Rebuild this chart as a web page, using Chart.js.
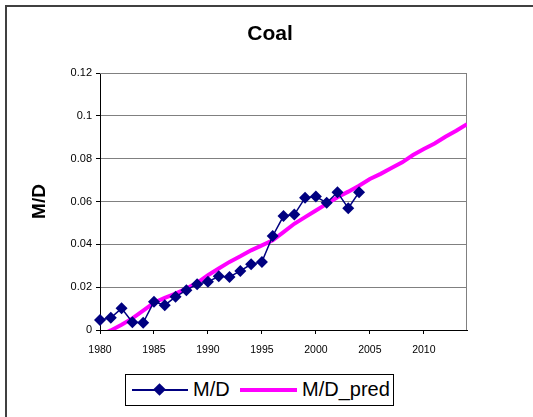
<!DOCTYPE html>
<html>
<head>
<meta charset="utf-8">
<script src="https://cdn.jsdelivr.net/npm/chart.js@4"></script>
<style>
  html, body { margin: 0; padding: 0; background: #fff; overflow: hidden; }
  #wrap { position: relative; width: 533px; height: 417px; }
  #frame { position: absolute; left: 5px; top: 5px; width: 560px; height: 440px; border: 2px solid #404040; box-sizing: border-box; }
  canvas { position: absolute; left: 0; top: 0; }
  #legend { position: absolute; left: 125px; top: 374px; width: 269px; height: 32px; border: 1px solid #000; box-sizing: border-box; background: #fff;
            font-family: 'Liberation Sans', Arial, sans-serif; font-size: 20px; color: #000; }
  #legend .ln { position: absolute; }
  #legend .txt { position: absolute; top: 3px; line-height: 23px; }
</style>
</head>
<body>
<div id="wrap">
  <div id="frame"></div>
  <canvas id="coalChart" width="533" height="417"></canvas>
  <div id="legend"></div>
</div>
<script>
// ===== DATA =====
const years = [1980, 1981, 1982, 1983, 1984, 1985, 1986, 1987, 1988, 1989,
  1990, 1991, 1992, 1993, 1994, 1995, 1996, 1997, 1998, 1999,
  2000, 2001, 2002, 2003, 2004, 2005, 2006, 2007, 2008, 2009,
  2010, 2011, 2012, 2013, 2014];

const mdValues = [0.0047, 0.0057, 0.0101, 0.0036, 0.0034, 0.0132, 0.0116, 0.0155, 0.0186, 0.0214,
  0.0225, 0.0251, 0.0248, 0.0276, 0.0307, 0.0318, 0.0439, 0.0532, 0.0539, 0.0617,
  0.0623, 0.0594, 0.0643, 0.0569, 0.0643];

const predValues = [-0.0025, -0.0002, 0.0025, 0.0054, 0.0090, 0.0127, 0.0150, 0.0170, 0.0194, 0.0220,
  0.0256, 0.0287, 0.0318, 0.0344, 0.0372, 0.0395, 0.0419, 0.0457, 0.0496, 0.0527,
  0.0558, 0.0589, 0.0620, 0.0646, 0.0674, 0.0705, 0.0729, 0.0756, 0.0783, 0.0817,
  0.0845, 0.0871, 0.0902, 0.0930, 0.0961];

const xTicks = [1980, 1985, 1990, 1995, 2000, 2005, 2010];
const yTicks = [0, 0.02, 0.04, 0.06, 0.08, 0.1, 0.12];
const yTickLabels = ["0", "0.02", "0.04", "0.06", "0.08", "0.1", "0.12"];

const seriesNames = ["M/D", "M/D_pred"];
const seriesColors = ["#000080", "#FF00FF"];

const FONT = "'Liberation Sans', Arial, sans-serif";

// ===== PLOT FRAME + TITLE SPOT =====
const plotFrame = {
  id: "plotFrame",
  afterLayout(chart) {
    // the title sits a bit left of the plot centre, like the original
    chart.titleBlock.left = 73;
  },
  beforeDatasetsDraw(chart) {
    const a = chart.chartArea;
    const ctx = chart.ctx;
    ctx.save();
    ctx.strokeStyle = "#808080";
    ctx.lineWidth = 1;
    ctx.beginPath();
    ctx.moveTo(a.left, a.top + 0.5);
    ctx.lineTo(a.right - 0.5, a.top + 0.5);
    ctx.lineTo(a.right - 0.5, a.bottom);
    ctx.stroke();
    ctx.restore();
  }
};

// ===== CHART =====
function createChart() {
  const ctx = document.getElementById("coalChart").getContext("2d");

  window.chart = new Chart(ctx, {
    type: "line",
    data: {
      datasets: [{
        label: seriesNames[0],
        data: mdValues.map((v, i) => ({ x: years[i], y: v })),
        borderColor: seriesColors[0],
        backgroundColor: seriesColors[0],
        borderWidth: 1.5,
        pointStyle: "rectRot",
        pointRadius: 6,
        pointBorderWidth: 0,
        tension: 0,
        clip: false
      }, {
        label: seriesNames[1],
        data: predValues.map((v, i) => ({ x: years[i], y: v })),
        borderColor: seriesColors[1],
        backgroundColor: seriesColors[1],
        borderWidth: 4,
        pointRadius: 0,
        tension: 0
      }]
    },
    options: {
      responsive: false,
      animation: false,
      events: [],
      layout: { padding: { left: 0, right: 66, top: 0, bottom: 57 } },
      plugins: {
        legend: { display: false },
        tooltip: { enabled: false },
        title: {
          display: true,
          text: "Coal",
          color: "#000",
          font: { family: FONT, size: 21, weight: "bold" },
          padding: { top: 22, bottom: 25.8 }
        }
      },
      scales: {
        x: {
          type: "linear",
          min: 1980,
          max: 2014,
          afterBuildTicks: (scale) => { scale.ticks = xTicks.map(v => ({ value: v })); },
          afterFit: (scale) => { scale.height = 30; },
          border: { color: "#000", width: 1 },
          grid: { drawOnChartArea: false, drawTicks: true, tickLength: 4, tickColor: "#000" },
          ticks: {
            color: "#000",
            padding: 10,
            maxRotation: 0,
            font: { family: FONT, size: 10.5 },
            callback: (value) => String(value)
          }
        },
        y: {
          min: 0,
          max: 0.12,
          afterBuildTicks: (scale) => { scale.ticks = yTicks.map(v => ({ value: v })); },
          afterFit: (scale) => { scale.width = 100; },
          border: { color: "#000", width: 1 },
          grid: { color: "#808080", lineWidth: 1, drawTicks: true, tickLength: 4, tickColor: "#000" },
          ticks: {
            color: "#000",
            padding: 4,
            font: { family: FONT, size: 11 },
            callback: (value, index) => yTickLabels[index]
          },
          title: {
            display: true,
            text: "M/D",
            color: "#000",
            font: { family: FONT, size: 19, weight: "bold" },
            padding: { top: 28.6, bottom: 0 }
          }
        }
      }
    },
    plugins: [plotFrame]
  });
}

// ===== LEGEND =====
function buildLegend() {
  const legend = document.getElementById("legend");
  const html = [];
  // M/D: line with diamond
  html.push("<div class='ln' style='left:6px;top:14px;width:56px;height:2px;background:" + seriesColors[0] + "'></div>");
  html.push("<div class='ln' style='left:29px;top:10px;width:9px;height:9px;background:" + seriesColors[0] + ";transform:rotate(45deg)'></div>");
  html.push("<span class='txt' style='left:67px'>" + seriesNames[0] + "</span>");
  // M/D_pred: thick magenta line
  html.push("<div class='ln' style='left:114px;top:13px;width:57px;height:4px;background:" + seriesColors[1] + "'></div>");
  html.push("<span class='txt' style='left:176px'>" + seriesNames[1] + "</span>");
  legend.innerHTML = html.join("");
}

window.addEventListener("load", function () {
  createChart();
  buildLegend();
});
</script>
</body>
</html>
